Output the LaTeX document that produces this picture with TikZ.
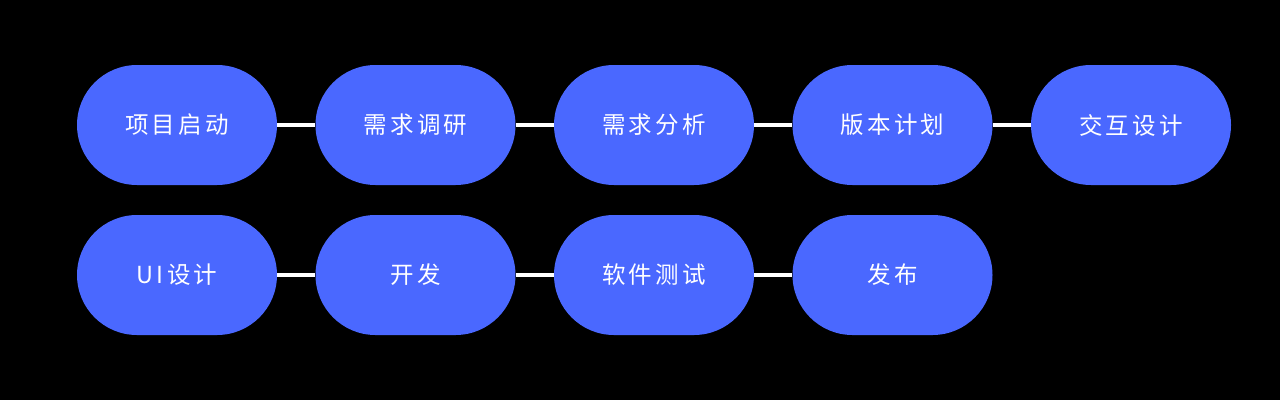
\documentclass[tikz,border=0pt]{standalone}
\usepackage{fontspec}
\newfontfamily\cjk[LetterSpace=14]{Noto Sans CJK SC}
\definecolor{pillblue}{HTML}{4A68FF}
\tikzset{
  pill/.style={fill=pillblue, draw=none, rounded corners=60pt, minimum width=200pt, minimum height=120pt, inner sep=0pt, text=white, font=\cjk\fontsize{23.5pt}{26pt}\selectfont},
  link/.style={draw=white, line width=4pt}
}
\begin{document}
\begin{tikzpicture}[x=1pt,y=-1pt]
\fill[black] (0,0) rectangle (1280,400);
\useasboundingbox (0,0) rectangle (1280,400);
\node[pill] (a1) at (177,125) {项目启动};
\node[pill] (a2) at (415.5,125) {需求调研};
\node[pill] (a3) at (654,125) {需求分析};
\node[pill] (a4) at (892.5,125) {版本计划};
\node[pill] (a5) at (1131,125) {交互设计};
\node[pill] (b1) at (177,275) {UI设计};
\node[pill] (b2) at (415.5,275) {开发};
\node[pill] (b3) at (654,275) {软件测试};
\node[pill] (b4) at (892.5,275) {发布};
\draw[link] (a1) -- (a2);
\draw[link] (a2) -- (a3);
\draw[link] (a3) -- (a4);
\draw[link] (a4) -- (a5);
\draw[link] (b1) -- (b2);
\draw[link] (b2) -- (b3);
\draw[link] (b3) -- (b4);
\end{tikzpicture}
\end{document}
